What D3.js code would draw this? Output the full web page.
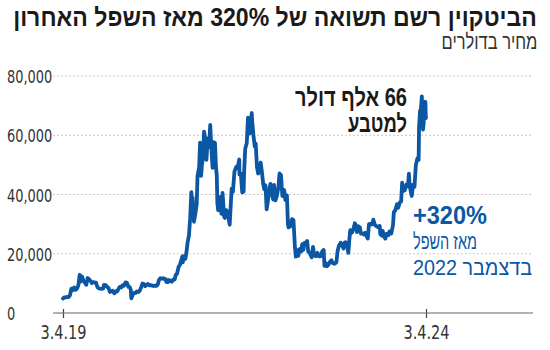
<!DOCTYPE html>
<html><head><meta charset="utf-8">
<script src="https://cdn.jsdelivr.net/npm/d3@7"></script>
<style>html,body{margin:0;padding:0;background:#fff;}svg{display:block;}</style>
</head><body>
<svg id="c" width="550" height="350"></svg>
<script>
const titleText = "הביטקוין רשם תשואה של 320% מאז השפל האחרון";
const subtitleText = "מחיר בדולרים";
const noteDark = ["66 אלף דולר", "למטבע"];
const noteBlue = ["+320%", "מאז השפל", "בדצמבר 2022"];
const yTicks = [0, 20000, 40000, 60000, 80000];
const xTickDates = ["2019-04-03", "2024-04-03"];
const xTickLabels = ["3.4.19", "3.4.24"];

const dates = [
"2019-04-03","2019-04-10","2019-04-17","2019-04-24","2019-05-01","2019-05-08","2019-05-15","2019-05-22","2019-05-29","2019-06-05","2019-06-12","2019-06-19","2019-06-26","2019-07-01","2019-07-08","2019-07-15","2019-07-22","2019-07-29","2019-08-05","2019-08-12","2019-08-19","2019-08-26","2019-09-02","2019-09-09","2019-09-16","2019-09-24","2019-10-01","2019-10-08","2019-10-15","2019-10-22","2019-10-26","2019-11-04","2019-11-11","2019-11-18","2019-11-25","2019-12-02","2019-12-09","2019-12-17","2019-12-24","2019-12-31",
"2020-01-07","2020-01-14","2020-01-21","2020-01-28","2020-02-04","2020-02-12","2020-02-19","2020-02-26","2020-03-04","2020-03-09","2020-03-12","2020-03-19","2020-03-26","2020-04-02","2020-04-09","2020-04-16","2020-04-23","2020-04-30","2020-05-07","2020-05-14","2020-05-21","2020-05-28","2020-06-04","2020-06-11","2020-06-18","2020-06-25","2020-07-02","2020-07-09","2020-07-16","2020-07-23","2020-07-29","2020-08-05","2020-08-12","2020-08-19","2020-08-26","2020-09-02","2020-09-04","2020-09-11","2020-09-18","2020-09-25","2020-10-02","2020-10-09","2020-10-16","2020-10-21","2020-10-28","2020-11-05","2020-11-12","2020-11-18","2020-11-24","2020-11-26","2020-12-02","2020-12-09","2020-12-16","2020-12-20","2020-12-27",
"2021-01-02","2021-01-08","2021-01-11","2021-01-14","2021-01-21","2021-01-28","2021-02-04","2021-02-08","2021-02-16","2021-02-21","2021-02-26","2021-03-03","2021-03-08","2021-03-13","2021-03-20","2021-03-25","2021-03-31","2021-04-07","2021-04-13","2021-04-18","2021-04-25","2021-04-30","2021-05-07","2021-05-12","2021-05-16","2021-05-19","2021-05-23","2021-05-28","2021-06-03","2021-06-08","2021-06-14","2021-06-22","2021-06-26","2021-07-03","2021-07-10","2021-07-20","2021-07-26","2021-07-30","2021-08-05","2021-08-13","2021-08-22","2021-08-28","2021-09-06","2021-09-07","2021-09-14","2021-09-21","2021-09-28","2021-10-01","2021-10-06","2021-10-14","2021-10-20","2021-10-25","2021-10-28","2021-11-02","2021-11-08","2021-11-10","2021-11-16","2021-11-23","2021-11-28","2021-12-04","2021-12-10","2021-12-16","2021-12-23","2021-12-30",
"2022-01-05","2022-01-10","2022-01-16","2022-01-22","2022-01-27","2022-02-04","2022-02-10","2022-02-18","2022-02-24","2022-02-28","2022-03-07","2022-03-15","2022-03-22","2022-03-28","2022-04-04","2022-04-11","2022-04-20","2022-04-26","2022-05-04","2022-05-09","2022-05-12","2022-05-20","2022-05-30","2022-06-06","2022-06-13","2022-06-18","2022-06-24","2022-06-30","2022-07-08","2022-07-15","2022-07-20","2022-07-26","2022-07-30","2022-08-08","2022-08-14","2022-08-19","2022-08-26","2022-09-06","2022-09-12","2022-09-19","2022-09-26","2022-10-05","2022-10-12","2022-10-20","2022-10-29","2022-11-05","2022-11-09","2022-11-15","2022-11-21","2022-11-28","2022-12-05","2022-12-14","2022-12-20","2022-12-30",
"2023-01-08","2023-01-14","2023-01-21","2023-01-29","2023-02-06","2023-02-13","2023-02-16","2023-02-23","2023-03-02","2023-03-09","2023-03-14","2023-03-19","2023-03-27","2023-04-03","2023-04-11","2023-04-19","2023-04-22","2023-04-28","2023-05-06","2023-05-12","2023-05-19","2023-05-26","2023-06-02","2023-06-10","2023-06-15","2023-06-21","2023-06-28","2023-07-06","2023-07-13","2023-07-20","2023-07-28","2023-08-05","2023-08-14","2023-08-17","2023-08-25","2023-08-29","2023-09-06","2023-09-11","2023-09-18","2023-09-27","2023-10-02","2023-10-11","2023-10-20","2023-10-24","2023-10-31","2023-11-09","2023-11-15","2023-11-23","2023-11-30","2023-12-05","2023-12-11","2023-12-18","2023-12-27",
"2024-01-03","2024-01-08","2024-01-12","2024-01-22","2024-01-29","2024-02-05","2024-02-12","2024-02-20","2024-02-26","2024-02-28","2024-03-04","2024-03-08","2024-03-13","2024-03-19","2024-03-22","2024-03-26","2024-03-31","2024-04-02","2024-04-03"];
const prices = [
4900,5300,5250,5450,5350,5950,8200,7700,8650,7800,8200,9300,12900,10600,12300,10900,10300,9500,11800,11400,10900,10100,10400,10300,10270,8600,8300,8200,8150,8200,9500,9400,8800,8500,7100,7300,7500,6640,7300,7200,
8100,8800,8650,9400,9200,10350,10200,8800,8750,7900,4950,6200,6750,6800,7300,7100,7500,8650,9950,9800,9050,9550,9800,9300,9400,9250,9100,9250,9150,9600,11100,11750,11600,11750,11450,11400,10500,10400,11100,10750,10600,11300,11300,12800,13300,15600,16300,17800,19100,17100,19200,18300,21300,23800,26200,
32000,40800,35500,39000,30800,33400,36800,46200,49100,57500,46300,50500,52300,61200,58100,51700,58900,56000,63500,56200,49000,57700,57400,49200,46400,37000,34700,35700,39200,33500,40500,32500,32100,34700,33800,29800,37300,42000,40900,47800,49300,48900,51800,46800,47100,40700,41000,48200,55400,57400,65900,63100,60600,63200,67500,64900,60300,56200,57200,49400,47100,47600,50800,47100,
43400,41800,43100,35000,37200,41500,43600,40000,38300,43200,38000,39700,42400,47100,46600,39500,41500,38100,39700,30100,28900,29200,31700,31400,22500,19000,21200,19300,21600,20800,23200,21300,23600,23800,24300,20800,20300,18800,22300,19500,19200,20300,19100,19100,20800,21300,15900,16900,15800,16200,17100,17800,16900,16600,
17100,20900,22700,23700,22900,21800,23600,23900,23500,20300,24600,28000,27100,28200,30300,28800,27300,29300,28900,26800,26900,26500,27100,25800,25100,30000,30100,29900,31500,29900,29300,29000,29400,26600,26100,27700,25700,25100,26700,26300,27500,26800,29700,34000,34600,36700,35500,37300,37700,44000,41200,41400,43400,
42800,47000,42800,39500,43300,42600,50000,52300,51700,62500,68300,68300,73100,61900,63800,70000,71300,65800,66000];

const parse = d3.timeParse("%Y-%m-%d");
const series = dates.map((d, i) => ({date: parse(d), value: prices[i]}));

const svg = d3.select("#c");
const FONT = "'DejaVu Sans Condensed','Liberation Sans Narrow','Liberation Sans',sans-serif";
const HFONT = "'Liberation Sans','DejaVu Sans',sans-serif";

const x = d3.scaleTime().domain([parse(xTickDates[0]), parse(xTickDates[1])]).range([63, 426]);
const y = d3.scaleLinear().domain([0, 80000]).range([313, 76]);
const plotLeft = 53, plotRight = 533;

function condense(sel, factor) {
  sel.each(function() {
    const w = this.getComputedTextLength();
    d3.select(this).attr("textLength", w * factor).attr("lengthAdjust", "spacingAndGlyphs");
  });
}

// gridlines
svg.append("g").selectAll("line").data(yTicks.filter(v => v > 0)).join("line")
  .attr("x1", plotLeft).attr("x2", plotRight)
  .attr("y1", d => y(d)).attr("y2", d => y(d))
  .attr("stroke", "#c8c8c8").attr("stroke-width", 1).attr("stroke-dasharray", "2,2");

// y labels
svg.append("g").selectAll("text").data(yTicks).join("text")
  .attr("x", 7).attr("y", d => y(d) + 7)
  .attr("font-family", FONT).attr("font-size", 18).attr("fill", "#333")
  .text(d => d === 0 ? "0" : d3.format(",")(d))
  .call(condense, 0.8);

// x axis
const xAxis = d3.axisBottom(x).tickValues(xTickDates.map(parse)).tickSize(0).tickFormat("");
const gx = svg.append("g").attr("transform", "translate(0,313)").call(xAxis);
gx.select(".domain").remove();
gx.append("line").attr("x1", plotLeft).attr("x2", plotRight).attr("stroke", "#666").attr("stroke-width", 1.2);
gx.selectAll(".tick").append("line").attr("y1", -4).attr("y2", 5).attr("stroke", "#444").attr("stroke-width", 1.2);
gx.selectAll(".tick").append("text").data(xTickLabels)
  .attr("y", 26).attr("text-anchor", "middle").attr("fill", "#333")
  .attr("font-family", FONT).attr("font-size", 19).text(d => d)
  .call(condense, 0.85);

// line
const line = d3.line().x(d => x(d.date)).y(d => y(d.value)).curve(d3.curveLinear);
svg.append("path").datum(series).attr("d", line)
  .attr("fill", "none").attr("stroke", "#0b57a4").attr("stroke-width", 3.8)
  .attr("stroke-linejoin", "round").attr("stroke-linecap", "round");

function noteText(txt, cx, by, w, size, weight, color, dir) {
  const g = svg.append("g");
  const t = g.append("text").attr("x", 0).attr("y", 0).attr("text-anchor", "middle")
    .attr("direction", dir).style("unicode-bidi", "embed")
    .attr("font-family", HFONT).attr("font-size", size).attr("font-weight", weight)
    .attr("fill", color).text(txt);
  const w0 = t.node().getComputedTextLength();
  g.attr("transform", `translate(${cx},${by}) scale(${w / w0},1)`);
}
noteText(titleText, 275, 26, 524, 25, "bold", "#1a1a1a", "rtl");
noteText(subtitleText, 489.5, 49, 96, 21, "normal", "#333", "rtl");
noteText(noteDark[0], 351, 106, 112, 25, "bold", "#1a1a1a", "rtl");
noteText(noteDark[1], 377.5, 132, 59, 25, "bold", "#1a1a1a", "rtl");
noteText(noteBlue[0], 450, 224, 74, 25, "bold", "#0b57a4", "ltr");
noteText(noteBlue[1], 445, 249, 64, 22, "normal", "#0b57a4", "rtl");
noteText(noteBlue[2], 472.5, 275, 119, 22, "normal", "#0b57a4", "rtl");
</script>
</body></html>
